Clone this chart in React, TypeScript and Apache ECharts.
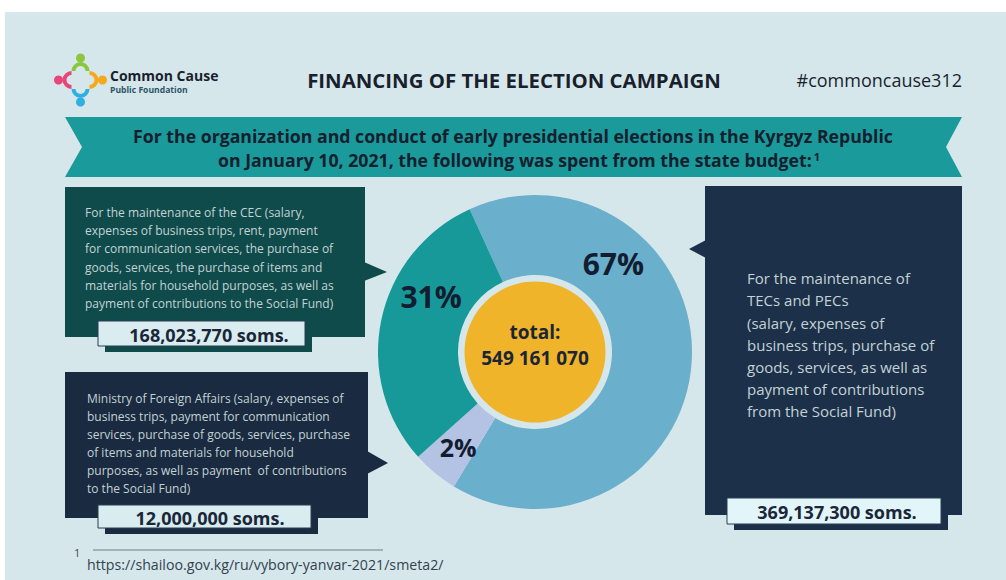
import React, { useEffect, useRef } from "react";
import * as echarts from "echarts";

// ---- data ----
const categories = ["For the maintenance of TECs and PECs", "Ministry of Foreign Affairs", "For the maintenance of the CEC"];
const amounts = [369137300, 12000000, 168023770];
const sliceColors = ["#6aafcc", "#b4c2e3", "#17999a"];

const cecText = [
  "For the maintenance of the CEC (salary,",
  "expenses of business trips, rent, payment",
  "for communication services, the purchase of",
  "goods, services, the purchase of items and",
  "materials for household purposes, as well as",
  "payment of contributions to the Social Fund)",
];
const mfaText = [
  "Ministry of Foreign Affairs (salary, expenses of",
  "business trips, payment for communication",
  "services, purchase of goods, services, purchase",
  "of items and materials for household",
  "purposes, as well as payment  of contributions",
  "to the Social Fund)",
];
const tecText = [
  "For the maintenance of",
  "TECs and PECs",
  "(salary, expenses of",
  "business trips, purchase of",
  "goods, services, as well as",
  "payment of contributions",
  "from the Social Fund)",
];

// label placement (radius, clockwise degrees from top, font size) per slice
const labelPolar = [
  [118, 41.6, 30],
  [122, 219, 25],
  [118, 298.3, 30],
];

const CX = 535;
const CY = 352;

const fmtComma = (v: number) => v.toLocaleString("en-US");
const fmtSpace = (v: number) => v.toLocaleString("en-US").replace(/,/g, " ");

export default function App() {
  const ref = useRef<HTMLDivElement>(null);
  useEffect(() => {
    if (!ref.current) return;
    const chart = echarts.init(ref.current, undefined, { renderer: "svg" });
    const total = amounts.reduce((a, b) => a + b, 0);
    const FONT = "'Open Sans', 'Noto Sans', sans-serif";
    const bodyColor = "#c3d2d4";

    const valueBox = (x: number, y: number, w: number, h: number, fill: string, shadow: string, text: string, z: number, tx: number) => [
      { type: "rect", z, shape: { x: x + 7, y: y + 6, width: w, height: h }, style: { fill: shadow } },
      { type: "rect", z: z + 1, shape: { x, y, width: w, height: h }, style: { fill, stroke: "#2a3f52", lineWidth: 1 } },
      {
        type: "text", z: z + 2, x: tx, y: y + h / 2 + 1,
        style: { text, fill: "#1b2738", font: `bold 18px ${FONT}`, align: "center", verticalAlign: "middle" },
      },
    ];

    const logo = [
      { type: "circle", z: 3, shape: { cx: 80.5, cy: 58, r: 4.5 }, style: { fill: "#8cc63f" } },
      { type: "arc", z: 3, shape: { cx: 80.5, cy: 71, r: 7, startAngle: Math.PI, endAngle: 2 * Math.PI, clockwise: true }, style: { stroke: "#8cc63f", lineWidth: 4, fill: "none" } },
      { type: "circle", z: 3, shape: { cx: 58.5, cy: 80, r: 4.5 }, style: { fill: "#e8457a" } },
      { type: "arc", z: 3, shape: { cx: 71.5, cy: 80, r: 7, startAngle: Math.PI / 2, endAngle: (3 * Math.PI) / 2, clockwise: true }, style: { stroke: "#e8457a", lineWidth: 4, fill: "none" } },
      { type: "circle", z: 3, shape: { cx: 80.5, cy: 102, r: 4.5 }, style: { fill: "#2fb0e0" } },
      { type: "arc", z: 3, shape: { cx: 80.5, cy: 89, r: 7, startAngle: 0, endAngle: Math.PI, clockwise: true }, style: { stroke: "#2fb0e0", lineWidth: 4, fill: "none" } },
      { type: "circle", z: 3, shape: { cx: 102.5, cy: 80, r: 4.5 }, style: { fill: "#f6a81c" } },
      { type: "arc", z: 3, shape: { cx: 89.5, cy: 80, r: 7, startAngle: -Math.PI / 2, endAngle: Math.PI / 2, clockwise: true }, style: { stroke: "#f6a81c", lineWidth: 4, fill: "none" } },
    ];

    const graphic: any[] = [
      { type: "rect", z: 0, shape: { x: 5, y: 12, width: 1001, height: 568 }, style: { fill: "#d5e7eb" } },
      ...logo,
      { type: "text", z: 3, x: 110, y: 75, style: { text: "Common Cause", fill: "#1a1f2e", font: `bold 14px ${FONT}`, verticalAlign: "middle" } },
      { type: "text", z: 3, x: 110, y: 90, style: { text: "Public Foundation", fill: "#2d5566", font: `bold 8.6px ${FONT}`, verticalAlign: "middle" } },
      { type: "text", z: 3, x: 514, y: 80, style: { text: "FINANCING OF THE ELECTION CAMPAIGN", fill: "#1a1f2e", font: `bold 20.4px ${FONT}`, align: "center", verticalAlign: "middle" } },
      { type: "text", z: 3, x: 962, y: 80, style: { text: "#commoncause312", fill: "#1a1f2e", font: `18px ${FONT}`, align: "right", verticalAlign: "middle" } },
      // banner
      { type: "polygon", z: 1, shape: { points: [[65, 117], [962, 117], [946, 147], [962, 177], [65, 177], [82, 147]] }, style: { fill: "#1b9a9b" } },
      { type: "text", z: 3, x: 513, y: 136, style: { text: "For the organization and conduct of early presidential elections in the Kyrgyz Republic", fill: "#14202e", font: `bold 17.7px ${FONT}`, align: "center", verticalAlign: "middle" } },
      {
        type: "text", z: 3, x: 519, y: 160,
        style: {
          text: "on January 10, 2021, the following was spent from the state budget:{sup|1}",
          fill: "#14202e", font: `bold 17.7px ${FONT}`, align: "center", verticalAlign: "middle",
          rich: { sup: { fontSize: 11, fontWeight: "bold", fontFamily: FONT, fill: "#14202e", verticalAlign: "top", padding: [0, 0, 0, 2] } },
        },
      },
      // left top box
      { type: "rect", z: 1, shape: { x: 65, y: 187, width: 300, height: 150 }, style: { fill: "#0f4b4b" } },
      { type: "polygon", z: 1, shape: { points: [[364, 262], [387, 272], [364, 281]] }, style: { fill: "#0f4b4b" } },
      { type: "text", z: 3, x: 85, y: 203, style: { text: cecText.join("\n"), fill: bodyColor, font: `12px ${FONT}`, lineHeight: 18.3, verticalAlign: "top" } },
      ...valueBox(98, 321, 207, 25, "#d9ecef", "#0f4b4b", `${fmtComma(amounts[2])} soms.`, 4, 209),
      // left bottom box
      { type: "rect", z: 1, shape: { x: 65, y: 372, width: 303, height: 146 }, style: { fill: "#1a2a40" } },
      { type: "polygon", z: 1, shape: { points: [[367, 451], [388, 463], [367, 474]] }, style: { fill: "#1a2a40" } },
      { type: "text", z: 3, x: 87, y: 389, style: { text: mfaText.join("\n"), fill: bodyColor, font: `12px ${FONT}`, lineHeight: 18, verticalAlign: "top" } },
      ...valueBox(98, 505, 213, 23, "#d9ecef", "#1a2a40", `${fmtComma(amounts[1])} soms.`, 4, 210),
      // right box
      { type: "rect", z: 1, shape: { x: 705, y: 186, width: 257, height: 329 }, style: { fill: "#1c3049" } },
      { type: "polygon", z: 1, shape: { points: [[706, 240], [689, 249], [706, 258]] }, style: { fill: "#1c3049" } },
      { type: "text", z: 3, x: 747, y: 267, style: { text: tecText.join("\n"), fill: bodyColor, font: `15px ${FONT}`, lineHeight: 22.2, verticalAlign: "top" } },
      ...valueBox(727, 498, 214, 26, "#e2f6f9", "#1c3049", `${fmtComma(amounts[0])} soms.`, 4, 837),
      // center
      { type: "circle", z: 3, shape: { cx: CX, cy: CY, r: 70.5 }, style: { fill: "#f0b42b" } },
      { type: "text", z: 4, x: CX, y: 332, style: { text: "total:", fill: "#1b2536", font: `bold 19px ${FONT}`, align: "center", verticalAlign: "middle" } },
      { type: "text", z: 4, x: CX, y: 358, style: { text: fmtSpace(total), fill: "#1b2536", font: `bold 19px ${FONT}`, align: "center", verticalAlign: "middle" } },
      // footnote
      { type: "text", z: 3, x: 74, y: 552, style: { text: "1", fill: "#3a4854", font: `11px ${FONT}`, verticalAlign: "middle" } },
      { type: "line", z: 3, shape: { x1: 93, y1: 550, x2: 383, y2: 550 }, style: { stroke: "#6e7c86", lineWidth: 1 } },
      { type: "text", z: 3, x: 87, y: 564, style: { text: "https://shailoo.gov.kg/ru/vybory-yanvar-2021/smeta2/", fill: "#34424e", font: `14.2px ${FONT}`, verticalAlign: "middle" } },
    ];

    chart.setOption({
      animation: false,
      backgroundColor: "#ffffff",
      graphic,
      series: [
        {
          type: "pie",
          z: 5,
          silent: true,
          center: [CX, CY],
          radius: [77, 157],
          startAngle: 114.6,
          clockwise: true,
          minAngle: 17,
          percentPrecision: 0,
          avoidLabelOverlap: false,
          itemStyle: { borderWidth: 0 },
          emphasis: { disabled: true },
          labelLine: { show: false },
          label: {
            show: true,
            position: "inside",
            formatter: "{d}%",
            color: "#121d30",
            fontWeight: "bold",
            fontFamily: FONT,
          },
          labelLayout: (p: any) => {
            const [r, a] = labelPolar[p.dataIndex];
            const rad = (a * Math.PI) / 180;
            return { x: CX + r * Math.sin(rad), y: CY - r * Math.cos(rad), align: "center", verticalAlign: "middle" };
          },
          data: categories.map((name, i) => ({
            name,
            value: amounts[i],
            itemStyle: { color: sliceColors[i] },
            label: { fontSize: labelPolar[i][2] },
          })),
        },
      ],
    });
    return () => chart.dispose();
  }, []);
  return <div ref={ref} style={{ position: "fixed", left: 0, top: 0, width: 1006, height: 580 }} />;
}
